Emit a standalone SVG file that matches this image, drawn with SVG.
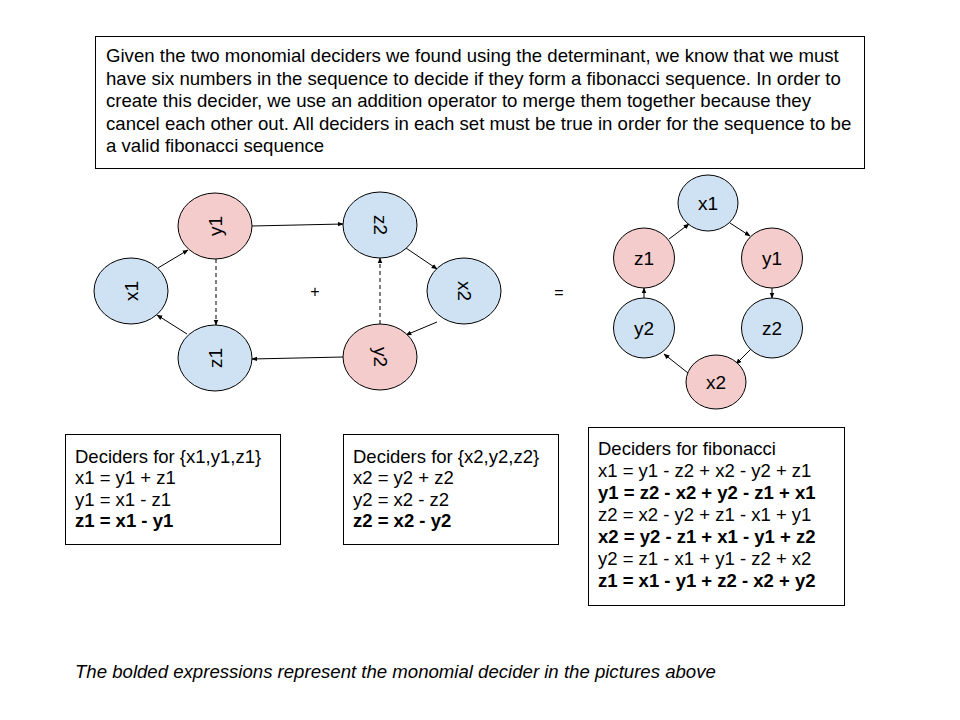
<svg xmlns="http://www.w3.org/2000/svg" width="960" height="720" viewBox="0 0 960 720">
<defs>
<marker id="ah" viewBox="0 0 10 10" refX="9" refY="5" markerWidth="6" markerHeight="6" orient="auto" markerUnits="userSpaceOnUse"><path d="M0,1 L10,5 L0,9 z" fill="#000"/></marker>
</defs>
<style>
text{font-family:"Liberation Sans",Arial,sans-serif;fill:#000}
.box{fill:#fff;stroke:#000;stroke-width:1}
.blue{fill:#cfe2f3;stroke:#000;stroke-width:1}
.red{fill:#f4cccc;stroke:#000;stroke-width:1}
.lbl{font-size:19px;text-anchor:middle;dominant-baseline:central}
.t{font-size:18.6px}
.b{font-size:18.5px}
.bold{font-weight:bold}
.edge{stroke:#000;stroke-width:1;fill:none;marker-end:url(#ah)}
.dash{stroke-dasharray:4,3}
</style>
<rect width="960" height="720" fill="#fff"/>
<g id="description">
<rect class="box" x="95.500" y="36.500" width="769" height="132"/>
<text class="t" x="106" y="62">Given the two monomial deciders we found using the determinant, we know that we must</text>
<text class="t" x="106" y="85">have six numbers in the sequence to decide if they form a fibonacci sequence. In order to</text>
<text class="t" x="106" y="107">create this decider, we use an addition operator to merge them together because they</text>
<text class="t" x="106" y="130">cancel each other out. All deciders in each set must be true in order for the sequence to be</text>
<text class="t" x="106" y="152">a valid fibonacci sequence</text>
</g>
<g id="connectors">
<line class="edge" x1="158" y1="268" x2="188" y2="250"/>
<line class="edge" x1="252" y1="226" x2="343" y2="224"/>
<line class="edge" x1="406" y1="248" x2="437" y2="269"/>
<line class="edge" x1="437" y1="322" x2="406" y2="335"/>
<line class="edge" x1="343" y1="357" x2="252" y2="359"/>
<line class="edge" x1="187" y1="334" x2="157" y2="315"/>
<line class="edge dash" x1="216" y1="259" x2="216" y2="325"/>
<line class="edge dash" x1="380" y1="324" x2="380" y2="258"/>
<line class="edge" x1="669" y1="239" x2="689" y2="224"/>
<line class="edge" x1="730" y1="223" x2="750" y2="236"/>
<line class="edge" x1="772" y1="288" x2="772" y2="298"/>
<line class="edge" x1="751" y1="349" x2="736" y2="364"/>
<line class="edge" x1="688" y1="373" x2="664" y2="354"/>
<line class="edge" x1="644" y1="298" x2="644" y2="288"/>
</g>
<g id="node-x1-left"><ellipse class="blue" cx="131" cy="291" rx="37" ry="33"/><text class="lbl" transform="translate(131,291) rotate(-90)">x1</text></g>
<g id="node-y1-left"><ellipse class="red" cx="215" cy="226" rx="37" ry="33"/><text class="lbl" transform="translate(215,226) rotate(-90)">y1</text></g>
<g id="node-z1-left"><ellipse class="blue" cx="215" cy="358" rx="37" ry="33"/><text class="lbl" transform="translate(215,358) rotate(-90)">z1</text></g>
<g id="node-z2-left"><ellipse class="blue" cx="380" cy="225" rx="37" ry="33"/><text class="lbl" transform="translate(380,225) rotate(90)">z2</text></g>
<g id="node-x2-left"><ellipse class="blue" cx="464" cy="291" rx="37" ry="33"/><text class="lbl" transform="translate(464,291) rotate(90)">x2</text></g>
<g id="node-y2-left"><ellipse class="red" cx="380" cy="357" rx="37" ry="33"/><text class="lbl" transform="translate(380,357) rotate(90)">y2</text></g>
<g id="plus"><text class="lbl" x="315" y="291" style="font-size:16px">+</text></g>
<g id="equals"><text class="lbl" x="559" y="292" style="font-size:16px">=</text></g>
<g id="node-x1"><ellipse class="blue" cx="708" cy="203" rx="30" ry="28"/><text class="lbl" x="708" y="203">x1</text></g>
<g id="node-z1"><ellipse class="red" cx="644" cy="258" rx="30.500" ry="30"/><text class="lbl" x="644" y="258">z1</text></g>
<g id="node-y1"><ellipse class="red" cx="772" cy="258" rx="30.500" ry="30"/><text class="lbl" x="772" y="258">y1</text></g>
<g id="node-y2"><ellipse class="blue" cx="644" cy="328" rx="30.500" ry="30"/><text class="lbl" x="644" y="328">y2</text></g>
<g id="node-z2"><ellipse class="blue" cx="772" cy="328" rx="30.500" ry="30"/><text class="lbl" x="772" y="328">z2</text></g>
<g id="node-x2"><ellipse class="red" cx="716" cy="382" rx="30" ry="27"/><text class="lbl" x="716" y="382">x2</text></g>
<g id="box-1">
<rect class="box" x="65.500" y="434.500" width="215" height="110"/>
<text class="b" x="75" y="463">Deciders for {x1,y1,z1}</text>
<text class="b" x="75" y="484">x1 = y1 + z1</text>
<text class="b" x="75" y="506">y1 = x1 - z1</text>
<text class="b bold" x="75" y="527">z1 = x1 - y1</text>
</g>
<g id="box-2">
<rect class="box" x="343.500" y="434.500" width="215" height="110"/>
<text class="b" x="353" y="463">Deciders for {x2,y2,z2}</text>
<text class="b" x="353" y="484">x2 = y2 + z2</text>
<text class="b" x="353" y="506">y2 = x2 - z2</text>
<text class="b bold" x="353" y="527">z2 = x2 - y2</text>
</g>
<g id="box-3">
<rect class="box" x="588.500" y="427.500" width="256" height="178"/>
<text class="b" x="598" y="455">Deciders for fibonacci</text>
<text class="b" x="598" y="477">x1 = y1 - z2 + x2 - y2 + z1</text>
<text class="b bold" x="598" y="499">y1 = z2 - x2 + y2 - z1 + x1</text>
<text class="b" x="598" y="521">z2 = x2 - y2 + z1 - x1 + y1</text>
<text class="b bold" x="598" y="543">x2 = y2 - z1 + x1 - y1 + z2</text>
<text class="b" x="598" y="565">y2 = z1 - x1 + y1 - z2 + x2</text>
<text class="b bold" x="598" y="587">z1 = x1 - y1 + z2 - x2 + y2</text>
</g>
<g id="caption"><text x="75" y="678" style="font-size:18.6px;font-style:italic">The bolded expressions represent the monomial decider in the pictures above</text></g>
</svg>
